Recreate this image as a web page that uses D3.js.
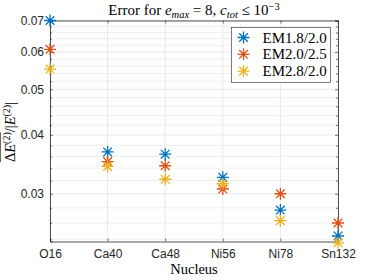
<!DOCTYPE html>
<html>
<head>
<meta charset="utf-8">
<script src="https://cdn.jsdelivr.net/npm/d3@7"></script>
<style>
  body { margin: 0; background: #fff; }
  svg { display: block; }
</style>
</head>
<body>
<svg id="chart" width="374" height="280"></svg>
<script>
// Data
const nuclei = ["O16", "Ca40", "Ca48", "Ni56", "Ni78", "Sn132"];
const em18 = [0.0700, 0.0368, 0.0364, 0.0325, 0.0277, 0.0244];
const em20 = [0.0608, 0.0351, 0.0344, 0.0307, 0.0300, 0.0260];
const em28 = [0.0552, 0.0343, 0.0322, 0.0315, 0.0263, 0.0236];
const seriesNames = ["EM1.8/2.0", "EM2.0/2.5", "EM2.8/2.0"];
const yTicks = [0.03, 0.04, 0.05, 0.06, 0.07];
const yMinor = [0.024, 0.026, 0.028, 0.032, 0.034, 0.036, 0.038, 0.042, 0.044, 0.046, 0.048,
  0.052, 0.054, 0.056, 0.058, 0.062, 0.064, 0.066, 0.068];

const colors = ["#0072BD", "#D95319", "#EDB120"];
const series = [em18, em20, em28];

const svg = d3.select("#chart");
const plotLeft = 50, plotRight = 338, plotTop = 20.5, plotBottom = 241.5;
const axisColor = "#262626";
const sans = "'Liberation Sans', Arial, sans-serif";
const serif = "'Liberation Serif', 'DejaVu Serif', serif";

const x = d3.scalePoint().domain(nuclei).range([plotLeft, plotRight]);
const y = d3.scaleLog().domain([0.02375, 0.07]).range([plotBottom, plotTop]);

// Minor grid (dotted)
svg.append("g")
  .selectAll("line")
  .data(yMinor)
  .enter()
  .append("line")
  .attr("x1", plotLeft).attr("x2", plotRight)
  .attr("y1", (d) => y(d)).attr("y2", (d) => y(d))
  .attr("stroke", "#cfcfcf")
  .attr("stroke-width", 0.6)
  .attr("stroke-dasharray", "1,1");

// Major grid
svg.append("g")
  .selectAll("line")
  .data(yTicks)
  .enter()
  .append("line")
  .attr("x1", plotLeft).attr("x2", plotRight)
  .attr("y1", (d) => y(d)).attr("y2", (d) => y(d))
  .attr("stroke", "#e0e0e0")
  .attr("stroke-width", 0.7);

svg.append("g")
  .selectAll("line")
  .data(nuclei)
  .enter()
  .append("line")
  .attr("x1", (d) => x(d)).attr("x2", (d) => x(d))
  .attr("y1", plotTop).attr("y2", plotBottom)
  .attr("stroke", "#e0e0e0")
  .attr("stroke-width", 0.7);

// Axes with inward ticks on all four sides
const bottomAxis = d3.axisBottom(x).tickSize(-3).tickPadding(8);
const topAxis = d3.axisTop(x).tickSize(-3).tickFormat("");
const leftAxis = d3.axisLeft(y).tickValues(yTicks).tickSize(-3).tickPadding(6)
  .tickFormat(d3.format(".2f"));
const rightAxis = d3.axisRight(y).tickValues(yTicks).tickSize(-3).tickFormat("");
const leftMinor = d3.axisLeft(y).tickValues(yMinor).tickSize(-2).tickFormat("");
const rightMinor = d3.axisRight(y).tickValues(yMinor).tickSize(-2).tickFormat("");

function styleAxis(g) {
  g.select(".domain").attr("stroke", axisColor).attr("stroke-width", 0.8);
  g.selectAll(".tick line").attr("stroke", axisColor).attr("stroke-width", 0.6);
  g.selectAll(".tick text").attr("fill", axisColor)
    .style("font-family", sans).style("font-size", "12px");
}

svg.append("g").attr("transform", `translate(0,${plotBottom})`).call(bottomAxis).call(styleAxis);
svg.append("g").attr("transform", `translate(0,${plotTop})`).call(topAxis).call(styleAxis);
svg.append("g").attr("transform", `translate(${plotLeft},0)`).call(leftAxis).call(styleAxis);
svg.append("g").attr("transform", `translate(${plotRight},0)`).call(rightAxis).call(styleAxis);
svg.append("g").attr("transform", `translate(${plotLeft},0)`).call(leftMinor).call(styleAxis)
  .select(".domain").remove();
svg.append("g").attr("transform", `translate(${plotRight},0)`).call(rightMinor).call(styleAxis)
  .select(".domain").remove();

// Asterisk marker path (plus + cross)
function asterisk(r) {
  const d = r * 0.72;
  return `M${-r},0L${r},0M0,${-r}L0,${r}M${-d},${-d}L${d},${d}M${-d},${d}L${d},${-d}`;
}

series.forEach((values, i) => {
  svg.append("g")
    .selectAll("path")
    .data(values)
    .enter()
    .append("path")
    .attr("transform", (d, j) => `translate(${x(nuclei[j])},${y(d)})`)
    .attr("d", asterisk(6))
    .attr("stroke", colors[i])
    .attr("stroke-width", 1.3)
    .attr("fill", "none");
});

// Legend
const legend = svg.append("g");
legend.append("rect")
  .attr("x", 231.5).attr("y", 27.5)
  .attr("width", 99).attr("height", 55)
  .attr("fill", "#fff")
  .attr("stroke", "#262626")
  .attr("stroke-width", 0.6);

seriesNames.forEach((name, i) => {
  const ly = 37.5 + i * 16.8;
  legend.append("path")
    .attr("transform", `translate(243.5,${ly})`)
    .attr("d", asterisk(6))
    .attr("stroke", colors[i])
    .attr("stroke-width", 1.3)
    .attr("fill", "none");
  legend.append("text")
    .attr("x", 262.5).attr("y", ly + 5)
    .style("font-family", serif).style("font-size", "15px")
    .attr("fill", "#000")
    .text(name);
});

// Title with math parts
const title = svg.append("text")
  .attr("x", 194).attr("y", 15)
  .attr("text-anchor", "middle")
  .style("font-family", serif).style("font-size", "15px")
  .attr("fill", "#000");
title.append("tspan").text("Error for ");
title.append("tspan").style("font-style", "italic").text("e");
title.append("tspan").attr("dy", 2.5).style("font-size", "10.5px").style("font-style", "italic").text("max");
title.append("tspan").attr("dy", -2.5).text(" = 8, ");
title.append("tspan").style("font-style", "italic").text("c");
title.append("tspan").attr("dy", 2.5).style("font-size", "10.5px").style("font-style", "italic").text("tot");
title.append("tspan").attr("dy", -2.5).text(" \u2264 10");
title.append("tspan").attr("dy", -5.5).style("font-size", "10.5px").text("\u22123");

// X label
svg.append("text")
  .attr("x", 194).attr("y", 274)
  .attr("text-anchor", "middle")
  .style("font-family", serif).style("font-size", "14.5px")
  .attr("fill", "#000")
  .text("Nucleus");

// Y label, rotated, with overline over the first part
const ylab = svg.append("g").attr("transform", "translate(15,132) rotate(-90)");
const ytext = ylab.append("text")
  .attr("text-anchor", "middle")
  .style("font-family", serif).style("font-size", "14.5px")
  .attr("fill", "#000");
ytext.append("tspan").text("\u0394");
ytext.append("tspan").style("font-style", "italic").text("E");
ytext.append("tspan").attr("dy", -5.5).style("font-size", "10px").text("(2)");
ytext.append("tspan").attr("dy", 5.5).text("/|");
ytext.append("tspan").style("font-style", "italic").text("E");
ytext.append("tspan").attr("dy", -5.5).style("font-size", "10px").text("(2)");
ytext.append("tspan").attr("dy", 5.5).text("|");

const node = ytext.node();
const start = node.getStartPositionOfChar(0).x;
const end = node.getEndPositionOfChar(4).x;
ylab.append("line")
  .attr("x1", start).attr("x2", end)
  .attr("y1", -14.5).attr("y2", -14.5)
  .attr("stroke", "#000")
  .attr("stroke-width", 0.6);
</script>
</body>
</html>
